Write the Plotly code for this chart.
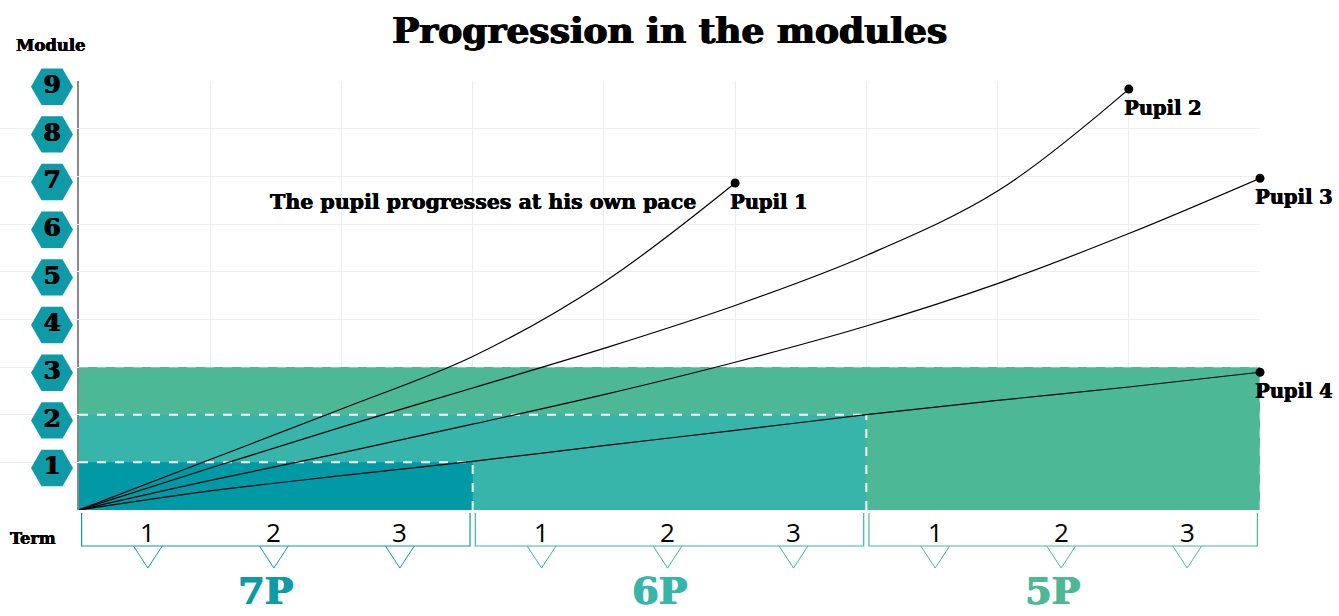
import plotly.graph_objects as go

# ---------------- data ----------------
title_text = "Progression in the modules"
modules = [1, 2, 3, 4, 5, 6, 7, 8, 9]
grades = ["7P", "6P", "5P"]
term_labels = ["1", "2", "3"]
expected_module = [1, 2, 3]          # module reached at the end of each grade
grade_colors = ["#0E9AA7", "#38B5AA", "#4DB896"]
level_colors = ["#0099A6", "#38B5AA", "#4DB896"]

pupil_names = ["Pupil 1", "Pupil 2", "Pupil 3", "Pupil 4"]
pupil_terms = [
    [0, 1, 2, 3, 4, 5],
    [0, 1, 2, 3, 4, 5, 6, 7, 8],
    [0, 1, 2, 3, 4, 5, 6, 7, 8, 9],
    [0, 1, 2, 3, 4, 5, 6, 7, 8, 9],
]
pupil_modules = [
    [0, 1.06, 2.12, 3.22, 4.78, 6.86],
    [0, 0.88, 1.74, 2.56, 3.39, 4.29, 5.34, 6.69, 8.83],
    [0, 0.62, 1.2, 1.8, 2.42, 3.1, 3.86, 4.75, 5.8, 6.96],
    [0, 0.4, 0.72, 1.02, 1.35, 1.67, 2.0, 2.3, 2.58, 2.89],
]
note_text = "The pupil progresses at his own pace"

SLAB = "DejaVu Serif"
TERMS_PER_GRADE = len(term_labels)
N_TERMS = TERMS_PER_GRADE * len(grades)
W, H = 1339, 616
PLOT_L, PLOT_R, PLOT_T, PLOT_B = 79, 1260, 81, 510
X_DOMAIN = [PLOT_L / W, PLOT_R / W]
MAIN_BOTTOM = (H - PLOT_B) / (H - PLOT_T)
TERM_OFFSET, TERM_STEP = 0.525, 0.96


def heavy(color, w=0.6):
    return f"{w}px 0px 0px {color}, -{w/2}px 0px 0px {color}"


fig = go.Figure()

# ---------------- pupil curves ----------------
for xs, ys in zip(pupil_terms, pupil_modules):
    fig.add_trace(go.Scatter(
        x=xs, y=ys, mode="lines",
        line=dict(color="black", width=1.2, shape="spline", smoothing=1.0),
        hoverinfo="skip", showlegend=False, xaxis="x", yaxis="y"))

fig.add_trace(go.Scatter(
    x=[xs[-1] for xs in pupil_terms], y=[ys[-1] for ys in pupil_modules],
    mode="markers", marker=dict(color="black", size=9),
    cliponaxis=False, showlegend=False, hoverinfo="skip", xaxis="x", yaxis="y"))

# ---------------- module hexagons (own axis in the left margin) ----------------
fig.add_trace(go.Scatter(
    x=[52] * len(modules), y=[m - 0.12 for m in modules],
    mode="markers+text", text=[f"<b>{m}</b>" for m in modules],
    textposition="middle center",
    textfont=dict(family=SLAB, size=25, color="black", shadow=heavy("black")),
    marker=dict(symbol="hexagon2", size=42, color="#0E9AA7", line=dict(width=0)),
    cliponaxis=False, showlegend=False, hoverinfo="skip", xaxis="x3", yaxis="y"))

shapes = []
# ---------------- expected level areas ----------------
for g in reversed(range(len(grades))):
    shapes.append(dict(type="rect", xref="x", yref="y", layer="between",
                       x0=0, x1=(g + 1) * TERMS_PER_GRADE, y0=0, y1=expected_module[g],
                       fillcolor=level_colors[g], line=dict(width=0)))
for g in range(len(grades)):
    xe = (g + 1) * TERMS_PER_GRADE
    lv = expected_module[g]
    col = "rgba(255,255,255,0.95)" if g < len(grades) - 1 else "rgba(255,255,255,0.3)"
    shapes.append(dict(type="line", xref="x", yref="y", layer="between",
                       x0=0, x1=xe, y0=lv, y1=lv,
                       line=dict(color=col, width=2, dash="dash")))
    shapes.append(dict(type="line", xref="x", yref="y", layer="between",
                       x0=xe, x1=xe, y0=0, y1=lv,
                       line=dict(color=col, width=2, dash="dash")))

# ---------------- term brackets ----------------
annotations = []
for g, gname in enumerate(grades):
    x0 = g * TERMS_PER_GRADE + 0.02
    x1 = (g + 1) * TERMS_PER_GRADE - 0.02
    shapes.append(dict(type="path", xref="x2", yref="y2",
                       path=f"M {x0},-3 L {x0},-36 L {x1},-36 L {x1},-3",
                       line=dict(color=grade_colors[g], width=1.2)))
    for t, tl in enumerate(term_labels):
        cx = g * TERMS_PER_GRADE + TERM_OFFSET + t * TERM_STEP
        shapes.append(dict(type="path", xref="x2", yref="y2",
                           path=f"M {cx-0.11},-36 L {cx},-58 L {cx+0.11},-36",
                           line=dict(color=grade_colors[g], width=1)))
        annotations.append(dict(x=cx, y=-22, xref="x2", yref="y2", text=tl,
                                showarrow=False, xanchor="center", yanchor="middle",
                                font=dict(family="Open Sans", size=26, color="black")))
    annotations.append(dict(x=g * TERMS_PER_GRADE + 1.42, y=-80, xref="x2", yref="y2",
                            text=f"<b>{gname}</b>", showarrow=False,
                            xanchor="center", yanchor="middle",
                            font=dict(family=SLAB, size=38, color=grade_colors[g],
                                      shadow=heavy(grade_colors[g], 1.0))))

# ---------------- pupil labels ----------------
for name, xs, ys in zip(pupil_names, pupil_terms, pupil_modules):
    annotations.append(dict(x=xs[-1], y=ys[-1], xref="x", yref="y",
                            text=f"<b>{name}</b>", showarrow=False,
                            xanchor="left", yanchor="middle", xshift=-7, yshift=-19,
                            font=dict(family=SLAB, size=19.5, color="black",
                                      shadow=heavy("black", 0.5))))

annotations.append(dict(x=4.72, y=6.46, xref="x", yref="y", text=f"<b>{note_text}</b>",
                        showarrow=False, xanchor="right", yanchor="middle",
                        font=dict(family=SLAB, size=20.5, color="black",
                                  shadow=heavy("black", 0.5))))
annotations.append(dict(x=51 / W, y=(H - 45) / (H - PLOT_T), xref="paper", yref="paper",
                        text="<b>Module</b>", showarrow=False,
                        xanchor="center", yanchor="middle",
                        font=dict(family=SLAB, size=16.5, color="black",
                                  shadow=heavy("black", 0.4))))
annotations.append(dict(x=33 / W, y=-28, xref="paper", yref="y2", text="<b>Term</b>",
                        showarrow=False, xanchor="center", yanchor="middle",
                        font=dict(family=SLAB, size=16, color="black",
                                  shadow=heavy("black", 0.4))))

fig.update_layout(
    width=W, height=H,
    margin=dict(l=0, r=0, t=PLOT_T, b=0),
    paper_bgcolor="white", plot_bgcolor="white",
    title=dict(text=f"<b>{title_text}</b>", x=0.5, xref="paper", xanchor="center",
               y=1 - 30 / H, yanchor="middle",
               font=dict(family=SLAB, size=36, color="black", shadow=heavy("black", 1.0))),
    xaxis=dict(domain=X_DOMAIN, range=[0, N_TERMS], dtick=1, showgrid=True,
               gridcolor="#eeeeee", showticklabels=False, zeroline=False,
               showline=False, anchor="y", fixedrange=True),
    yaxis=dict(domain=[MAIN_BOTTOM, 1], range=[0, 9], dtick=1, showgrid=True,
               gridcolor="#eeeeee", showticklabels=False, zeroline=False,
               showline=True, linecolor="#888888", linewidth=1.5, fixedrange=True,
               anchor="x"),
    xaxis2=dict(domain=X_DOMAIN, matches="x", anchor="y2", visible=False),
    yaxis2=dict(domain=[0, MAIN_BOTTOM], range=[-(H - PLOT_B), 0], visible=False,
                anchor="x2"),
    xaxis3=dict(domain=[0, PLOT_L / W], range=[0, PLOT_L], anchor="y", visible=False),
    shapes=shapes, annotations=annotations, showlegend=False,
)

fig.write_html("out.html", config={"displayModeBar": False},
               post_script="document.body.style.margin='0px';")
